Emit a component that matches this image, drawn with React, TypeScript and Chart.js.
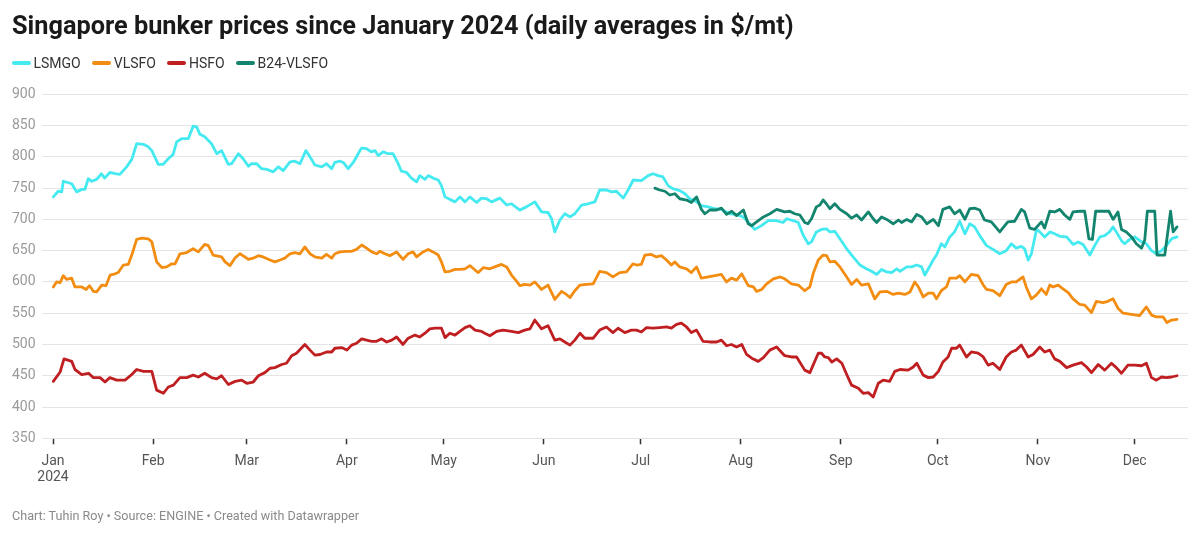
import React, { useEffect, useRef } from "react";
import { Chart, registerables } from "chart.js";

Chart.register(...registerables);

// x = day of year 2024 (0 = Jan 1)
const monthStarts = [0, 31, 60, 91, 121, 152, 182, 213, 244, 274, 305, 335];
const monthLabels = ["Jan", "Feb", "Mar", "Apr", "May", "Jun", "Jul", "Aug", "Sep", "Oct", "Nov", "Dec"];

const lsmgoDays = [0.1, 1.6, 2.7, 3.2, 5.8, 7.3, 8.9, 9.9, 10.9, 12, 13.5, 15, 16, 17.6, 19.2, 20.7, 22.8, 24.4, 25.9, 28, 29.5, 30.6, 32.6, 34.1, 35.7, 37.2, 38.3, 39.8, 41.9, 43.4, 44.5, 45.5, 47, 49.1, 50.7, 52.2, 54.3, 55.3, 57.4, 58.9, 60.5, 61.5, 63.1, 64.6, 66.2, 68.2, 69.8, 71.3, 73.4, 74.9, 76.5, 78.3, 79.6, 81.1, 83.2, 84.7, 86.3, 87.3, 88.9, 89.9, 91.4, 93, 94.5, 95.5, 97.1, 98.6, 99.7, 100.7, 102.2, 103.8, 105.3, 106.9, 107.9, 109.5, 111, 112.6, 113.6, 115.2, 116.2, 117.7, 119.3, 120.3, 121.4, 122.9, 124.5, 126, 127.6, 129.1, 131.2, 132.7, 134.3, 135.8, 138.4, 140.5, 142, 144.6, 146.6, 149.2, 151.3, 153.3, 154.4, 155.4, 157, 158.5, 160.1, 161.6, 163.7, 165.7, 167.8, 169.3, 171.4, 173, 174.5, 176.6, 178.1, 179.7, 182.2, 184.3, 185.8, 187.4, 188.9, 190.5, 192, 194.1, 195.7, 197.2, 198.8, 200.8, 202.9, 205, 207, 209.6, 211.7, 213.7, 215.8, 217.3, 219.4, 221.5, 224, 226.1, 227.2, 229.2, 230.8, 232.3, 233.9, 234.9, 236.4, 238, 239.5, 240.6, 242.1, 243.7, 245.8, 247.8, 249.9, 251.9, 253.5, 255.1, 256.6, 258.2, 259.7, 261.3, 262.3, 264.4, 265.9, 267.5, 269, 270, 271.1, 272.6, 273.6, 275.1, 276.2, 277.7, 279.2, 280.8, 282.4, 283.9, 285.4, 287, 289.1, 291.1, 293.2, 295.2, 296.8, 298.3, 299.9, 300.9, 302, 303, 304.6, 305.6, 307.1, 308.7, 310.2, 311.8, 313.9, 315.9, 317.5, 319, 321.1, 322.6, 324.2, 325.7, 327.2, 328.3, 329.3, 330.9, 331.9, 333.4, 335, 337.1, 338.6, 340.2, 341.7, 343.3, 344.8, 346.4, 348.1];
const lsmgoValues = [736, 745, 744, 761, 757, 744, 748, 748, 765, 761, 764, 773, 766, 775, 773, 772, 784, 796, 821, 820, 816, 810, 788, 788, 797, 804, 824, 829, 829, 849, 848, 836, 832, 821, 805, 810, 788, 789, 805, 797, 785, 789, 789, 781, 780, 776, 784, 778, 792, 793, 789, 810, 800, 787, 784, 789, 781, 791, 793, 791, 781, 791, 805, 814, 813, 808, 810, 802, 808, 805, 805, 789, 777, 775, 766, 760, 770, 764, 770, 766, 763, 754, 736, 732, 728, 736, 728, 736, 727, 734, 733, 728, 734, 723, 725, 715, 720, 728, 712, 711, 701, 680, 699, 709, 704, 709, 723, 725, 728, 747, 747, 744, 745, 734, 747, 763, 762, 770, 773, 770, 768, 754, 749, 746, 741, 733, 730, 722, 720, 717, 716, 709, 708, 704, 693, 684, 690, 698, 698, 695, 701, 698, 695, 675, 661, 664, 680, 684, 685, 680, 681, 669, 653, 640, 627, 621, 617, 612, 620, 616, 615, 621, 617, 624, 624, 627, 624, 611, 621, 635, 643, 661, 656, 672, 680, 697, 677, 693, 688, 674, 658, 652, 645, 650, 661, 654, 657, 653, 635, 645, 684, 680, 672, 680, 677, 673, 672, 660, 664, 660, 643, 658, 672, 674, 680, 688, 680, 666, 661, 668, 672, 664, 661, 650, 645, 650, 658, 669, 672];

const vlsfoDays = [0.1, 1.1, 2.2, 3.2, 4.2, 5.8, 6.8, 8.9, 10.3, 11.3, 12.5, 13.5, 15.1, 16.4, 17.7, 19.2, 20.2, 21.8, 23.3, 24.4, 25.9, 27.5, 29.5, 30.6, 32.1, 33.7, 35.2, 36.8, 37.8, 39.3, 41.4, 43.4, 45, 47, 48.1, 49.6, 52.2, 53.3, 54.8, 56.3, 57.9, 59.4, 60.5, 62, 63.6, 65.1, 67.2, 68.7, 70.3, 71.8, 73.4, 74.9, 76.5, 78, 79.6, 81.1, 83.2, 84.7, 86.3, 87.3, 88.9, 90.9, 92.5, 94, 95.6, 97.1, 98.7, 100.2, 101.2, 102.8, 104.3, 106.4, 108.4, 110, 111.5, 112.6, 114.6, 116.2, 117.7, 119.3, 120.3, 121.4, 122.9, 124.5, 126, 127.6, 129.1, 130.7, 131.7, 133.3, 135.3, 136.8, 138.9, 140.5, 142, 143.6, 144.6, 146.1, 147.7, 149.2, 151.3, 153.3, 155.4, 157.5, 159, 160.1, 161.6, 163.2, 165.2, 167.3, 169.3, 171.4, 173.4, 175.5, 177.6, 179.6, 180.7, 182.2, 183.3, 185.3, 186.9, 188.4, 190, 191.5, 192.6, 194.1, 196.2, 197.7, 199.3, 200.8, 202.9, 205, 207, 208.6, 210.1, 211.7, 213.3, 215.3, 216.9, 217.9, 219.5, 221, 223.1, 225.2, 226.6, 228.7, 230.8, 232.8, 234.4, 235.4, 237, 238.5, 239.6, 240.6, 242.1, 243.7, 245.8, 247.3, 248.9, 250.4, 252.5, 254.5, 256.1, 258.2, 260.2, 261.8, 263.8, 265.4, 266.9, 268, 269.5, 271.1, 272.6, 273.6, 275.1, 276.7, 277.7, 279.8, 280.8, 282.4, 284.4, 286.5, 288, 289.1, 291.1, 293.2, 295.2, 296.8, 298.3, 300.4, 301.4, 303, 304.5, 306.1, 307.6, 308.7, 309.7, 311.3, 312.8, 314.4, 315.9, 318, 319.5, 321.6, 323.1, 325.2, 326.7, 328.3, 329.8, 331.4, 334, 336.5, 338.6, 340.2, 341.7, 343.8, 345, 346.4, 348.1];
const vlsfoValues = [592, 600, 599, 610, 604, 606, 592, 592, 588, 594, 585, 584, 595, 594, 611, 613, 615, 627, 628, 643, 668, 670, 669, 664, 632, 623, 624, 629, 629, 645, 647, 653, 648, 660, 658, 643, 640, 632, 626, 638, 645, 640, 636, 638, 642, 640, 635, 632, 635, 638, 645, 647, 645, 656, 645, 640, 638, 644, 638, 645, 648, 649, 649, 652, 659, 654, 648, 645, 649, 645, 642, 648, 636, 645, 648, 640, 648, 652, 648, 643, 632, 616, 617, 620, 620, 621, 626, 619, 615, 623, 621, 624, 628, 624, 611, 601, 594, 596, 595, 600, 588, 595, 572, 585, 580, 575, 586, 595, 596, 597, 617, 615, 608, 615, 616, 629, 627, 628, 643, 644, 640, 642, 635, 627, 632, 624, 621, 615, 624, 606, 608, 610, 612, 600, 606, 603, 613, 594, 592, 585, 588, 597, 605, 608, 605, 597, 595, 586, 592, 613, 635, 643, 642, 632, 633, 624, 608, 596, 604, 595, 597, 573, 584, 585, 580, 582, 580, 584, 600, 592, 576, 582, 582, 573, 586, 592, 606, 606, 610, 600, 612, 610, 596, 588, 586, 578, 596, 600, 600, 608, 592, 573, 579, 589, 580, 595, 592, 595, 589, 583, 573, 564, 563, 551, 569, 567, 569, 573, 558, 550, 548, 546, 560, 547, 544, 544, 535, 539, 540];

const hsfoDays = [0.1, 2.2, 3.4, 5.8, 6.8, 8.9, 11, 12.5, 14.6, 16.1, 17.6, 19.7, 22.3, 24.4, 25.9, 28, 30.6, 32.1, 34.2, 35.7, 37.3, 39.3, 41.4, 43.4, 45, 47, 49.1, 50.7, 52.2, 54.3, 56.4, 58.4, 60, 62, 63.6, 65.6, 67.2, 68.7, 70.8, 72.3, 73.9, 75.4, 78, 79.6, 81.1, 82.7, 84.7, 86.3, 87.3, 89.4, 91, 92.5, 94, 95.6, 97.1, 98.7, 100.2, 101.8, 103.3, 104.9, 106.4, 108.4, 110, 112.1, 113.6, 115.2, 116.7, 118.3, 120.3, 121.4, 122.9, 124.5, 126, 127.6, 129.1, 130.7, 132.7, 133.7, 135.3, 137.4, 139.4, 142, 144.1, 146.1, 147.7, 149.2, 151.3, 153.3, 155.4, 157, 158.5, 160.1, 161.6, 163.2, 164.7, 167.3, 169.3, 171.4, 173.4, 175, 177.1, 179.1, 180.7, 182.2, 183.8, 185.8, 187.9, 190, 191.5, 193.1, 194.6, 196.2, 197.7, 199.3, 201.3, 203.4, 205.5, 207, 208.6, 210.1, 211.7, 213.3, 214.8, 216.4, 218.4, 220, 222, 224.1, 226.6, 228.7, 230.3, 232.8, 234.4, 235.4, 237, 238, 239, 240.1, 241.2, 242.7, 244.3, 245.8, 247.3, 249.4, 250.9, 252.5, 254, 255.6, 257.1, 259.1, 260.7, 262.3, 264.8, 266.4, 267.5, 269.5, 271.1, 272.6, 274.2, 275.6, 277.2, 278.3, 279.8, 280.8, 282.9, 284.4, 286.5, 288.1, 289.6, 291.1, 293.2, 295.2, 296.8, 298.3, 299.9, 302, 303.5, 305.6, 307.1, 308.7, 310.2, 311.8, 313.9, 315.9, 318.5, 320.1, 321.6, 323.7, 325.7, 327.8, 329.3, 330.9, 332.9, 335, 337.1, 338.6, 340.2, 341.7, 343.3, 344.8, 346.4, 348.1];
const hsfoValues = [441, 456, 477, 473, 460, 452, 454, 447, 447, 440, 447, 443, 443, 452, 460, 457, 457, 427, 422, 432, 435, 447, 447, 451, 448, 454, 447, 445, 450, 436, 441, 443, 438, 440, 450, 455, 462, 463, 468, 470, 482, 486, 500, 491, 483, 484, 488, 488, 494, 495, 491, 499, 502, 509, 507, 505, 505, 509, 504, 507, 512, 500, 510, 515, 512, 518, 525, 526, 526, 511, 518, 515, 521, 527, 530, 523, 521, 518, 514, 521, 523, 521, 519, 523, 525, 539, 525, 530, 507, 509, 504, 499, 507, 518, 510, 510, 523, 528, 519, 526, 519, 523, 523, 520, 527, 526, 527, 528, 526, 532, 534, 528, 519, 523, 505, 504, 504, 507, 498, 500, 496, 500, 484, 478, 473, 479, 491, 496, 482, 480, 480, 459, 455, 467, 486, 486, 480, 479, 472, 477, 470, 452, 435, 430, 422, 423, 416, 438, 443, 441, 457, 460, 459, 464, 470, 451, 447, 448, 457, 472, 480, 494, 494, 499, 480, 488, 486, 480, 467, 470, 460, 480, 488, 491, 499, 480, 484, 496, 488, 491, 477, 473, 463, 467, 471, 464, 455, 468, 459, 470, 463, 454, 467, 467, 466, 470, 447, 443, 448, 447, 448, 450];

const b24Days = [186.4, 187.9, 189.5, 191, 192.6, 194.1, 196.2, 197.7, 199.3, 200.8, 201.9, 203.4, 205.5, 207, 208.6, 210.2, 211.7, 213.8, 215.3, 216.4, 217.9, 220, 222, 224.1, 226.6, 228.2, 229.7, 231.3, 232.8, 233.8, 234.9, 236.4, 237.5, 238.5, 239.5, 240.6, 242.1, 243.7, 245.8, 247.3, 248.9, 250.4, 252.5, 254, 255.1, 256.6, 258.2, 260.2, 261.8, 262.8, 264.4, 265.9, 267.5, 269, 270.6, 272.6, 274.2, 275.6, 277.7, 279.2, 280.8, 282.4, 283.9, 285.4, 287, 288.5, 290.6, 293.2, 295.7, 297.8, 299.9, 300.9, 302.5, 304, 306.1, 307.1, 308.7, 310.2, 311.8, 313.3, 314.9, 315.9, 318, 319.5, 320.8, 321.9, 322.9, 325.2, 327, 328.3, 329.8, 330.9, 332.4, 334, 335.5, 337.1, 338.1, 338.9, 341.2, 341.9, 344.3, 346.1, 346.9, 348.1];
const b24Values = [750, 747, 745, 739, 741, 733, 731, 727, 736, 716, 709, 715, 715, 718, 708, 713, 706, 715, 693, 690, 696, 704, 709, 716, 712, 713, 709, 707, 695, 693, 701, 720, 723, 731, 725, 717, 725, 716, 709, 702, 707, 699, 712, 701, 695, 704, 700, 693, 699, 695, 700, 696, 708, 704, 693, 700, 690, 716, 720, 709, 715, 700, 717, 718, 715, 699, 696, 680, 696, 697, 716, 712, 686, 684, 696, 686, 713, 712, 716, 707, 700, 712, 713, 713, 669, 668, 713, 713, 713, 700, 712, 684, 680, 672, 661, 654, 667, 713, 713, 643, 643, 713, 680, 688];

const seriesNames = ["LSMGO", "VLSFO", "HSFO", "B24-VLSFO"];
const seriesColors = ["#45e9f0", "#f28d12", "#c01f22", "#13846d"];

const toPoints = (days: number[], values: number[]) => days.map((d, i) => ({ x: d, y: values[i] }));

const FONT = "Roboto, 'Noto Sans', sans-serif";

export default function App() {
  const ref = useRef<HTMLCanvasElement>(null);

  useEffect(() => {
    document.body.style.margin = "0";
    const canvas = ref.current!;
    const seriesData = [
      toPoints(lsmgoDays, lsmgoValues),
      toPoints(vlsfoDays, vlsfoValues),
      toPoints(hsfoDays, hsfoValues),
      toPoints(b24Days, b24Values),
    ];
    const chart = new Chart(canvas, {
      type: "line",
      data: {
        datasets: seriesNames.map((name, i) => ({
          label: name,
          data: seriesData[i],
          borderColor: seriesColors[i],
          backgroundColor: seriesColors[i],
          borderWidth: 2.8,
          pointRadius: 0,
          pointHoverRadius: 0,
          tension: 0,
          fill: false,
          borderJoinStyle: "round" as const,
          borderCapStyle: "round" as const,
          order: i === 3 ? 0 : 1,
        })),
      },
      options: {
        responsive: false,
        animation: false,
        devicePixelRatio: 1,
        layout: { padding: { top: 94.3, left: 12, right: 12, bottom: 0 } },
        plugins: { legend: { display: false }, tooltip: { enabled: false }, title: { display: false } },
        scales: {
          x: {
            type: "linear",
            min: -3.5,
            max: 351.5,
            afterBuildTicks: (s: any) => {
              s.ticks = monthStarts.map((v) => ({ value: v }));
            },
            afterFit: (s: any) => {
              s.height = 95.7;
            },
            grid: {
              display: true,
              drawOnChartArea: false,
              drawTicks: true,
              tickLength: 6,
              tickColor: "#333333",
              tickWidth: 1.5,
            },
            border: { display: false },
            ticks: {
              autoSkip: false,
              maxRotation: 0,
              padding: 9,
              color: "#555555",
              font: { family: FONT, size: 14, lineHeight: 1.15 },
              callback: (v: any) => {
                const i = monthStarts.indexOf(Number(v));
                if (i === 0) return ["Jan", "2024"];
                return i >= 0 ? monthLabels[i] : "";
              },
            },
          },
          y: {
            min: 350,
            max: 900,
            afterFit: (s: any) => {
              s.width = 29.7;
            },
            grid: { color: "#e4e4e4", lineWidth: 1, drawTicks: false },
            border: { display: false },
            ticks: {
              stepSize: 50,
              crossAlign: "far",
              padding: 0,
              color: "#9a9a9a",
              font: { family: FONT, size: 14 },
            },
          },
        },
      },
    });
    return () => chart.destroy();
  }, []);

  return (
    <div style={{ position: "relative", width: 1200, height: 534, background: "#fff", overflow: "hidden", fontFamily: FONT }}>
      <canvas ref={ref} width={1200} height={534} style={{ position: "absolute", left: 0, top: 0, width: 1200, height: 534 }} />
      <div style={{ position: "absolute", left: 12, top: 11, fontSize: 25.3, fontWeight: 700, color: "#1a1a1a", whiteSpace: "nowrap" }}>
        Singapore bunker prices since January 2024 (daily averages in $/mt)
      </div>
      <div style={{ position: "absolute", left: 12, top: 55, display: "flex", alignItems: "center", fontSize: 14, color: "#333", whiteSpace: "nowrap" }}>
        {seriesNames.map((n, i) => (
          <div key={n} style={{ display: "flex", alignItems: "center", marginRight: 11.5 }}>
            <span style={{ display: "inline-block", width: 18.5, height: 3.5, borderRadius: 2, background: seriesColors[i], marginRight: 3 }} />
            <span>{n}</span>
          </div>
        ))}
      </div>
      <div style={{ position: "absolute", left: 12, top: 508, fontSize: 12.6, color: "#8a8a8a", whiteSpace: "nowrap" }}>
        Chart: Tuhin Roy • Source: ENGINE • Created with Datawrapper
      </div>
    </div>
  );
}
